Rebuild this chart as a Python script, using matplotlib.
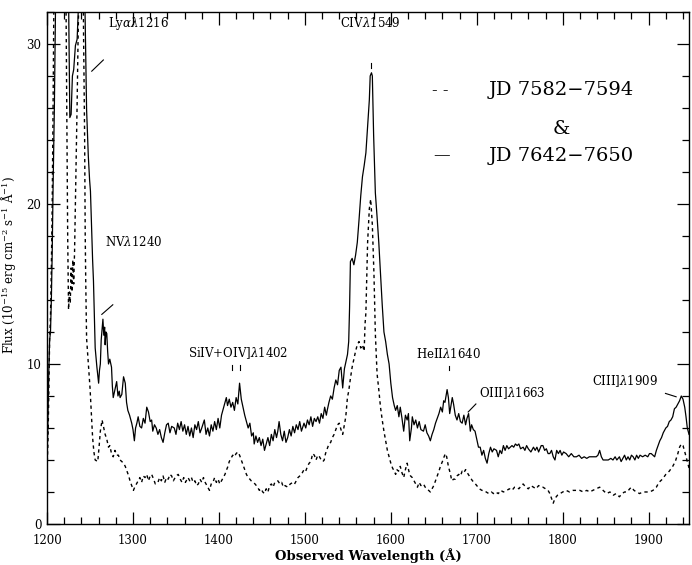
import numpy as np
import matplotlib
matplotlib.use("Agg")
import matplotlib.pyplot as plt
from matplotlib.ticker import MultipleLocator

# JD 7642-7650 (solid)
wave_solid = [1200, 1201, 1202, 1203, 1204, 1205, 1206, 1207, 1208.5, 1210, 1215, 1222, 1225, 1226.5, 1228,
              1229.5, 1231, 1233, 1235, 1237, 1240, 1243, 1244.5, 1246, 1248, 1249.5, 1250.5, 1252, 1253, 1254,
              1256, 1258, 1260, 1261, 1262, 1263, 1265, 1266, 1267, 1267.6, 1268.5, 1269.5, 1270.5, 1271.5, 1273,
              1275, 1276, 1277, 1279, 1281, 1282.5, 1284, 1285, 1287, 1289, 1291, 1292.5, 1294, 1296, 1298.5,
              1300, 1301.6, 1303, 1304.5, 1306, 1308, 1310, 1312, 1314, 1316, 1318, 1320, 1321.7, 1323, 1325,
              1327, 1329, 1331, 1333, 1335, 1337, 1339, 1341, 1343, 1345, 1348, 1350, 1352, 1354, 1356, 1358,
              1360, 1362, 1364, 1366, 1368, 1370, 1372, 1374, 1376, 1378, 1380, 1383, 1385, 1387, 1389, 1391,
              1393, 1395, 1397, 1399, 1401, 1403, 1405, 1407, 1408.6, 1410, 1412, 1414, 1416, 1418, 1420, 1422,
              1424, 1426, 1428, 1430, 1432, 1434, 1436, 1438, 1440, 1441, 1443, 1445, 1447, 1449, 1451, 1453,
              1455, 1457, 1459, 1461, 1463, 1465, 1467, 1468.5, 1470, 1472, 1474, 1476, 1478, 1480, 1482, 1484,
              1486, 1488, 1490, 1492, 1494, 1496, 1499, 1501, 1503, 1505, 1507, 1509, 1511, 1513, 1515, 1517,
              1519, 1521, 1523, 1525, 1526, 1528, 1530, 1532, 1534, 1536, 1538, 1540, 1542, 1544, 1546, 1548,
              1549.6, 1551, 1552, 1553, 1555, 1557, 1559, 1561, 1563, 1565, 1567, 1569, 1571, 1573, 1575, 1576,
              1577.5, 1578.5, 1580, 1582, 1584, 1586, 1588, 1590, 1592, 1594, 1596, 1598, 1600, 1602, 1604,
              1605.6, 1607.5, 1609.4, 1611, 1613, 1615, 1617, 1619, 1620.5, 1622, 1624, 1625, 1627, 1629, 1631,
              1633, 1635, 1638, 1640, 1642, 1644, 1646, 1648, 1650, 1652, 1654, 1656, 1658, 1660, 1661.5, 1663,
              1665.5, 1667, 1668.5, 1670, 1671.5, 1673, 1675, 1677, 1679, 1681, 1683, 1685, 1687, 1688.6, 1690.5,
              1692.5, 1694, 1696, 1698, 1700, 1702, 1704, 1706, 1708, 1710, 1712, 1714, 1716, 1718, 1720, 1723,
              1725, 1727, 1729, 1731, 1733, 1735, 1737, 1739, 1741, 1743, 1745, 1747, 1749, 1751, 1754, 1756,
              1758, 1760, 1763, 1766, 1768, 1770, 1772, 1775, 1777, 1779, 1781, 1783, 1785, 1787, 1789, 1791,
              1793, 1795, 1797, 1799, 1801, 1804, 1807, 1810, 1813, 1816, 1819, 1822, 1825, 1828, 1831, 1834,
              1837, 1839, 1841, 1843, 1845, 1847, 1850, 1853, 1856, 1858.5, 1861, 1863, 1866, 1868, 1870, 1872,
              1874, 1876, 1878, 1880, 1882, 1884, 1886, 1888, 1890, 1893, 1896, 1899, 1901, 1903, 1905, 1907,
              1909, 1911, 1913, 1915, 1917, 1920, 1922, 1924, 1926, 1928, 1930, 1932, 1934, 1936, 1938, 1940,
              1942, 1943.5, 1945, 1947]
flux_solid = [4.0, 6.5, 9.5, 11.5, 12.0, 14, 17, 21, 26, 33, 40, 40, 33, 25.4, 25.6,
              28, 28.4, 29.9, 30.3, 33, 40, 36, 31, 25.9, 23, 21.5, 20.8, 18.1, 16.5, 15.2,
              11.0, 9.8, 8.8, 9.6, 10.0, 11.5, 12.8, 11.8, 12.3, 11.2, 12.0, 11.9, 10.8, 10.0, 10.3,
              9.8, 8.6, 7.9, 8.4, 8.9, 8.0, 8.3, 7.9, 8.1, 9.2, 8.8, 7.6, 7.1, 6.8, 6.3,
              5.9, 5.2, 6.0, 6.3, 6.7, 6.1, 6.0, 6.6, 6.3, 7.3, 7.0, 6.4, 6.5, 5.8, 6.2,
              6.0, 5.6, 5.9, 5.4, 5.1, 5.7, 6.2, 6.3, 5.7, 6.1, 6.0, 5.6, 6.3, 5.9, 6.4, 5.8,
              6.2, 5.6, 6.1, 5.5, 6.0, 5.4, 6.2, 5.9, 6.4, 5.7, 6.0, 6.5, 5.6, 6.0, 5.5, 6.2,
              5.8, 6.4, 5.9, 6.6, 6.0, 6.8, 7.2, 7.6, 7.9, 7.4, 7.8, 7.3, 7.6, 7.1, 7.9, 7.5,
              8.8, 7.8, 7.3, 6.8, 6.4, 6.0, 6.3, 5.5, 5.7, 5.0, 5.5, 5.1, 5.4, 4.9, 5.3, 4.6,
              5.0, 5.4, 4.9, 5.6, 5.2, 5.9, 5.4, 5.8, 6.4, 5.6, 5.2, 5.8, 5.1, 5.4, 5.9, 5.5,
              6.1, 5.7, 6.2, 5.9, 6.4, 5.8, 6.3, 6.0, 6.5, 6.2, 6.7, 6.1, 6.6, 6.4, 6.7, 6.3,
              6.9, 6.6, 7.3, 6.8, 7.1, 7.6, 8.0, 7.8, 8.5, 9.0, 8.7, 9.6, 9.8, 8.5, 9.7, 10.2,
              10.6, 11.4, 13.5, 16.4, 16.6, 16.2, 16.8, 17.6, 19.0, 20.5, 21.7, 22.4, 23.2, 24.9, 26.5, 28.0,
              28.2, 28.0, 24.3, 20.7, 19.2, 17.6, 15.6, 13.7, 12.0, 11.4, 10.6, 10.0, 8.8, 7.9, 7.4,
              7.1, 7.4, 6.7, 7.3, 6.6, 5.8, 6.8, 6.5, 6.9, 5.2, 6.0, 6.7, 6.2, 6.5, 6.0,
              6.4, 5.9, 5.8, 6.2, 5.7, 5.5, 5.2, 5.6, 5.9, 6.3, 6.6, 6.9, 7.3, 7.0, 7.7, 7.6,
              8.4, 7.9, 6.9, 7.4, 7.9, 7.5, 6.8, 6.5, 6.9, 6.4, 6.3, 6.8, 6.2, 6.6, 6.9,
              5.8, 6.2, 5.9, 5.8, 5.3, 4.8, 4.8, 4.3, 4.6, 4.1, 3.8, 4.4, 4.8, 4.5, 4.7, 4.6,
              4.2, 4.6, 4.4, 4.9, 4.6, 4.9, 4.7, 4.8, 4.9, 4.8, 5.0, 4.9, 5.0, 4.7, 4.8, 4.6,
              4.9, 4.7, 4.5, 4.8, 4.6, 4.8, 4.5, 4.9, 4.9, 4.6, 4.7, 4.4, 4.4, 4.6, 4.2, 4.0,
              4.6, 4.4, 4.6, 4.3, 4.5, 4.4, 4.2, 4.4, 4.2, 4.2, 4.3, 4.1, 4.2, 4.1, 4.2, 4.2,
              4.2, 4.2, 4.3, 4.6, 4.2, 4.0, 4.0, 4.0, 4.1, 4.0, 4.2, 4.0, 4.2, 3.9, 4.1, 4.3,
              4.0, 4.2, 4.0, 4.3, 4.2, 4.0, 4.3, 4.1, 4.3, 4.2, 4.3, 4.2, 4.4, 4.4, 4.3, 4.2,
              4.6, 4.9, 5.2, 5.4, 5.7, 6.0, 6.1, 6.4, 6.5, 6.7, 7.2, 7.3, 7.5, 7.7, 8.0, 7.8,
              7.3, 6.7, 6.0, 5.6]

# JD 7582-7594 (dashed)
wave_dash = [1200, 1201, 1202, 1203, 1204, 1205, 1206, 1207, 1208, 1212, 1220, 1222, 1223, 1224, 1225,
             1226, 1227, 1228, 1229, 1230, 1231, 1232, 1233, 1234, 1235, 1236, 1237, 1240, 1242, 1242.5,
             1243.7, 1244.4, 1245, 1246, 1248, 1250, 1251.5, 1253, 1254.5, 1256, 1259, 1260.5, 1262, 1264,
             1266, 1267.6, 1269.5, 1271.5, 1273, 1275, 1277, 1279, 1281, 1283, 1285, 1287, 1289, 1291, 1293,
             1295, 1296.5, 1298.5, 1300.5, 1302, 1304, 1306, 1308, 1310, 1312, 1314, 1316, 1318, 1320, 1321.7,
             1324, 1326, 1329, 1331, 1333, 1335, 1337, 1339, 1341, 1343, 1345, 1347, 1350, 1352.6, 1355, 1357,
             1359, 1361, 1364, 1366, 1368, 1370, 1372, 1374, 1376, 1378, 1380, 1382, 1384, 1386, 1389, 1391,
             1393, 1395, 1397, 1399, 1401, 1403, 1405, 1407, 1409, 1410.5, 1412, 1414, 1416, 1418, 1420, 1422,
             1424, 1426, 1428, 1430, 1432, 1434, 1436, 1437.5, 1440, 1442, 1445, 1447, 1449, 1451, 1453, 1455,
             1457, 1459, 1461, 1463, 1465, 1468.5, 1471, 1473, 1475, 1477, 1480, 1483, 1486, 1488, 1490, 1492,
             1494, 1496, 1499, 1501, 1503, 1505, 1507, 1509, 1511, 1513, 1515, 1517, 1519, 1521, 1522.5, 1524,
             1526, 1528, 1530, 1532, 1534, 1536, 1538, 1540, 1542, 1544, 1546, 1547.6, 1549.5, 1551, 1553, 1555,
             1557, 1559, 1561, 1563, 1565, 1567, 1569, 1570, 1571, 1573, 1575, 1576.6, 1578.5, 1580.4, 1582,
             1584, 1586, 1588, 1590, 1592, 1594, 1596, 1598, 1600, 1602, 1604, 1605.6, 1607, 1609, 1611, 1613,
             1615, 1617, 1619, 1621, 1623, 1625, 1627, 1629, 1631, 1633, 1635, 1638, 1640, 1642, 1644, 1646,
             1648, 1650, 1652, 1654, 1656, 1657.7, 1660, 1662, 1663.5, 1665, 1667, 1669, 1671, 1673, 1675, 1677,
             1679, 1681, 1683, 1685, 1687, 1689, 1692.5, 1695, 1697, 1700, 1703, 1706, 1708, 1711, 1714, 1717,
             1719.5, 1722, 1725, 1728, 1731, 1735, 1738, 1741, 1744, 1746.6, 1749, 1752, 1754, 1757, 1760, 1763,
             1766, 1769, 1772, 1775, 1777, 1780, 1783, 1785, 1787, 1789, 1791, 1794, 1797, 1800, 1804, 1808,
             1812, 1816, 1820, 1824, 1828, 1831.5, 1835, 1839, 1843, 1847, 1851, 1855, 1859, 1862, 1866, 1869,
             1872, 1875, 1878, 1880, 1883, 1886, 1889.5, 1893, 1897, 1901, 1905, 1909, 1912, 1916, 1920, 1924,
             1928, 1931, 1934, 1936, 1938, 1940, 1941.6, 1943.5, 1945.5, 1947]
flux_dash = [3.5, 5, 8, 11.6, 13, 16, 20, 26, 33, 40, 40, 33, 25, 18, 13.4,
             14.5, 13.8, 16, 14.5, 16.5, 15.0, 17, 20, 23, 26.3, 30, 33, 40, 34, 30.5,
             24.3, 18.1, 15.2, 11.6, 10, 8.5, 7, 5.4, 4.5, 4.0, 3.9, 4.8, 5.8, 6.5,
             6.0, 5.6, 5.3, 4.8, 4.9, 4.4, 4.2, 4.6, 4.3, 4.3, 4.0, 3.9, 3.8, 3.6, 3.3,
             3.0, 2.7, 2.4, 2.1, 2.3, 2.5, 2.7, 2.9, 2.6, 3.0, 2.9, 3.1, 2.7, 3.0, 3.1,
             2.8, 2.5, 2.6, 2.9, 2.7, 3.0, 2.6, 2.9, 2.8, 3.1, 3.0, 2.7, 3.0, 3.1, 2.8, 2.6,
             2.9, 2.6, 2.9, 2.7, 2.9, 2.6, 2.7, 2.4, 2.5, 2.8, 2.6, 2.9, 2.6, 2.4, 2.1, 2.5,
             2.6, 2.9, 2.6, 2.8, 2.5, 2.7, 2.9, 3.1, 3.4, 3.6, 3.9, 4.1, 4.3, 4.2, 4.4, 4.5,
             4.3, 4.0, 3.7, 3.4, 3.1, 2.9, 2.8, 2.7, 2.6, 2.5, 2.3, 2.1, 2.2, 2.0, 1.9, 2.2,
             2.0, 2.4, 2.5, 2.3, 2.6, 2.7, 2.5, 2.6, 2.3, 2.4, 2.3, 2.5, 2.6, 2.5, 2.7, 2.9,
             3.0, 3.1, 3.4, 3.3, 3.6, 3.8, 3.9, 4.4, 4.3, 4.0, 4.3, 4.2, 4.0, 3.9, 4.0, 4.4,
             4.7, 5.0, 5.1, 5.4, 5.6, 5.9, 6.2, 6.3, 5.9, 5.6, 6.2, 6.7, 7.9, 8.3, 9.1, 9.8,
             10.3, 10.8, 11.2, 11.4, 11.0, 11.2, 10.8, 12.5, 13.2, 17.6, 19.7, 20.3, 18.7, 15.6, 11.9,
             9.4, 8.4, 7.3, 6.5, 5.8, 5.2, 4.6, 4.2, 3.8, 3.5, 3.3, 3.1, 3.4, 3.3, 3.6, 3.2,
             2.9, 3.4, 3.8, 3.3, 3.0, 2.9, 2.7, 2.5, 2.3, 2.6, 2.4, 2.5, 2.3, 2.2, 2.1, 2.0,
             2.2, 2.4, 2.7, 3.0, 3.3, 3.6, 3.9, 4.2, 4.4, 4.2, 3.6, 3.2, 2.7, 2.8, 2.8, 3.0,
             3.1, 3.0, 3.3, 3.2, 3.4, 3.2, 2.9, 2.7, 2.6, 2.4, 2.2, 2.1, 2.1, 2.0, 1.9, 2.0,
             1.9, 2.0, 1.9, 2.1, 2.0, 2.1, 2.2, 2.1, 2.3, 2.3, 2.2, 2.4, 2.5, 2.3, 2.2, 2.4,
             2.3, 2.2, 2.4, 2.3, 2.3, 2.2, 2.1, 1.9, 1.6, 1.3, 1.6, 1.8, 1.9, 2.0, 2.1, 2.0,
             2.1, 2.1, 2.1, 2.0, 2.1, 2.0, 2.1, 2.2, 2.3, 2.1, 1.9, 2.0, 1.8, 1.9, 1.7, 1.9,
             2.0, 2.0, 2.2, 2.3, 2.1, 2.0, 1.9, 2.0, 2.0, 2.0, 2.1, 2.3, 2.6, 2.8, 3.1, 3.3,
             3.6, 3.9, 4.4, 4.8, 5.0, 4.9, 4.6, 4.2, 3.8, 3.5]

# line identifications
line_labels = ["Ly$\\alpha\\lambda$1216", "NV$\\lambda$1240", "SiIV+OIV]$\\lambda$1402", "CIV$\\lambda$1549",
               "HeII$\\lambda$1640", "OIII]$\\lambda$1663", "CIII]$\\lambda$1909"]

plt.rcParams["font.family"] = "DejaVu Serif"
plt.rcParams["mathtext.fontset"] = "dejavuserif"

fig = plt.figure(figsize=(6.92, 5.65), dpi=100)
ax = fig.add_axes([0.068, 0.0726, 0.9277, 0.9062])

ax.plot(wave_solid, flux_solid, color="black", lw=0.9)
ax.plot(wave_dash, flux_dash, color="black", lw=1.0, linestyle=(0, (2.4, 2.4)))

ax.set_xlim(1200, 1947)
ax.set_ylim(0, 32)
ax.xaxis.set_major_locator(MultipleLocator(100))
ax.xaxis.set_minor_locator(MultipleLocator(20))
ax.yaxis.set_major_locator(MultipleLocator(10))
ax.yaxis.set_minor_locator(MultipleLocator(2))
ax.tick_params(which="both", direction="in", top=True, right=True, labelsize=8.5, width=0.9)
ax.tick_params(which="major", length=9)
ax.tick_params(which="minor", length=5)
ax.tick_params(axis="x", pad=7)
ax.tick_params(axis="y", pad=4)
for s in ax.spines.values():
    s.set_linewidth(1.0)

ax.set_xlabel("Observed Wavelength (Å)", fontsize=9.5, fontweight="bold", labelpad=1)
fig.text(0.012, 0.531, "Flux (10$^{-15}$ erg cm$^{-2}$ s$^{-1}$ Å$^{-1}$)", rotation=90,
         fontsize=8.5, ha="center", va="center")

fs = 8.5
ax.text(1270.5, 31.3, line_labels[0], fontsize=fs, ha="left", va="center")
ax.plot([1252, 1265.5], [28.3, 29.0], color="black", lw=0.8)
ax.text(1267, 17.6, line_labels[1], fontsize=fs, ha="left", va="center")
ax.plot([1263.7, 1276.5], [13.1, 13.7], color="black", lw=0.8)
ax.text(1422.5, 10.7, line_labels[2], fontsize=fs, ha="center", va="center")
ax.plot([1415.5, 1415.5], [9.6, 9.95], color="black", lw=0.8)
ax.plot([1425, 1425], [9.6, 9.95], color="black", lw=0.8)
ax.text(1576.6, 31.3, line_labels[3], fontsize=fs, ha="center", va="center")
ax.plot([1577, 1577], [28.5, 28.8], color="black", lw=0.8)
ax.text(1667.6, 10.6, line_labels[4], fontsize=fs, ha="center", va="center")
ax.plot([1667.5, 1667.5], [9.6, 9.9], color="black", lw=0.8)
ax.text(1703, 8.2, line_labels[5], fontsize=fs, ha="left", va="center")
ax.plot([1690, 1699], [7.0, 7.5], color="black", lw=0.8)
ax.text(1872.6, 8.95, line_labels[6], fontsize=fs, ha="center", va="center")
ax.plot([1919.6, 1932], [8.16, 7.95], color="black", lw=0.8)

# legend written out as in the original
ax.text(1657.7, 27.1, "- -", fontsize=12, ha="center", va="center")
ax.text(1798, 27.1, "JD 7582\u22127594", fontsize=14, ha="center", va="center")
ax.text(1798, 24.7, "&", fontsize=14, ha="center", va="center")
ax.text(1659, 23.0, "\u2014", fontsize=12, ha="center", va="center")
ax.text(1798, 23.0, "JD 7642\u22127650", fontsize=14, ha="center", va="center")

plt.savefig("out.png", dpi=100)
